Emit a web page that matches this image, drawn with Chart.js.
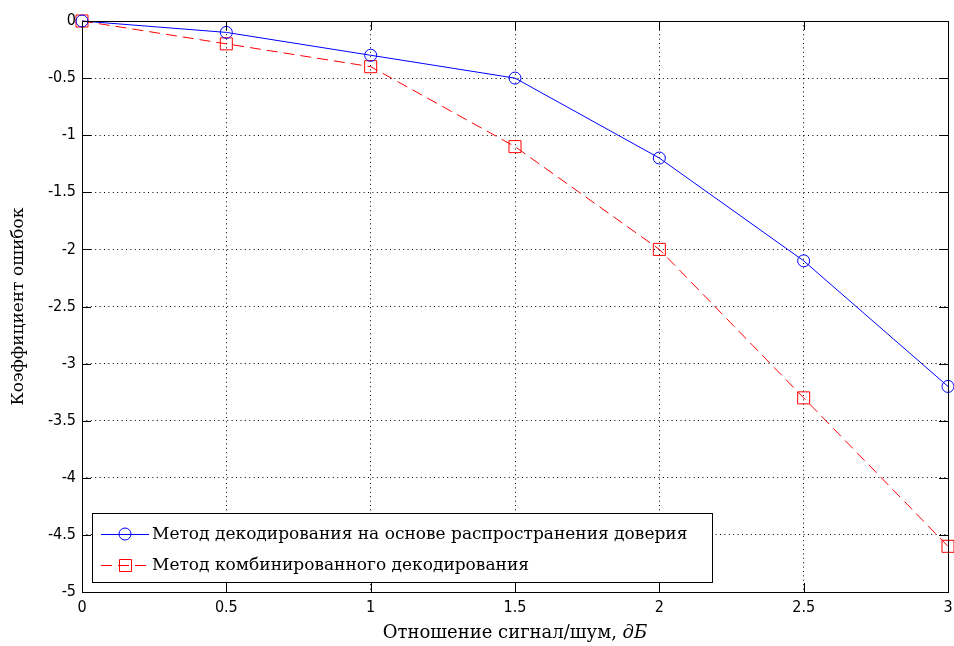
<!DOCTYPE html>
<html>
<head>
<meta charset="utf-8">
<script src="https://cdn.jsdelivr.net/npm/chart.js@4/dist/chart.umd.min.js"></script>
<style>
  html, body { margin: 0; padding: 0; background: #fff; }
  #wrap { width: 954px; height: 646px; }
</style>
</head>
<body>
<div id="wrap"><canvas id="myChart" width="954" height="646"></canvas></div>
<script>
// data
const snr = [0, 0.5, 1, 1.5, 2, 2.5, 3];
const beliefProp = [0, -0.1, -0.3, -0.5, -1.2, -2.1, -3.2];
const combined = [0, -0.2, -0.4, -1.1, -2.0, -3.3, -4.6];
const xTicks = [0, 0.5, 1, 1.5, 2, 2.5, 3];
const yTicks = [0, -0.5, -1, -1.5, -2, -2.5, -3, -3.5, -4, -4.5, -5];
const labels = ['Метод декодирования на основе распространения доверия', 'Метод комбинированного декодирования'];
const xTitle = ['Отношение сигнал/шум, ', 'дБ'];
const yTitle = 'Коэффициент ошибок';

const tickFamily = '"Liberation Sans Narrow", "DejaVu Sans Condensed", "Liberation Sans", sans-serif';
const textFamily = '"DejaVu Serif", "Liberation Serif", serif';

function pts(ys) {
    return snr.map(function (x, i) { return { x: x, y: ys[i] }; });
}

// box, inward ticks, legend and x title, MATLAB style
const matlabBox = {
    id: 'matlabBox',
    afterDatasetsDraw: function (chart) {
        const ctx = chart.ctx;
        const a = chart.chartArea;
        const xs = chart.scales.x, ys = chart.scales.y;
        ctx.save();
        ctx.strokeStyle = '#000';
        ctx.lineWidth = 1;
        ctx.setLineDash([]);
        ctx.beginPath();
        xTicks.forEach(function (v) {
            const px = Math.round(xs.getPixelForValue(v)) + 0.5;
            ctx.moveTo(px, a.bottom); ctx.lineTo(px, a.bottom - 9);
            ctx.moveTo(px, a.top); ctx.lineTo(px, a.top + 9);
        });
        yTicks.forEach(function (v) {
            const py = Math.round(ys.getPixelForValue(v)) + 0.5;
            ctx.moveTo(a.left, py); ctx.lineTo(a.left + 9, py);
            ctx.moveTo(a.right, py); ctx.lineTo(a.right - 9, py);
        });
        ctx.stroke();
        ctx.strokeRect(Math.round(a.left) + 0.5, Math.round(a.top) + 0.5, Math.round(a.right - a.left), Math.round(a.bottom - a.top));

        // legend
        const lx = 92, ly = 513, lw = 620, lh = 69;
        ctx.fillStyle = '#fff';
        ctx.fillRect(lx, ly, lw, lh);
        ctx.strokeRect(lx + 0.5, ly + 0.5, lw, lh);
        ctx.font = '17px ' + textFamily;
        ctx.textBaseline = 'middle';
        chart.data.datasets.forEach(function (ds, i) {
            const cy = ly + 21 + i * 31;
            ctx.strokeStyle = ds.borderColor;
            ctx.lineWidth = 1;
            ctx.setLineDash(ds.borderDash || []);
            ctx.beginPath();
            ctx.moveTo(lx + 9, cy + 0.5); ctx.lineTo(lx + 57, cy + 0.5);
            ctx.stroke();
            ctx.setLineDash([]);
            ctx.beginPath();
            const mx = lx + 33;
            if (ds.pointStyle === 'rect') {
                ctx.rect(mx - 6 + 0.5, cy - 6 + 0.5, 12, 12);
            } else {
                ctx.arc(mx, cy, 6, 0, Math.PI * 2);
            }
            ctx.stroke();
            ctx.fillStyle = '#000';
            ctx.fillText(ds.label, lx + 60, cy + 1);
        });

        // x title with italic units
        ctx.fillStyle = '#000';
        ctx.textBaseline = 'middle';
        ctx.font = '18px ' + textFamily;
        const w1 = ctx.measureText(xTitle[0]).width;
        ctx.font = 'italic 18px ' + textFamily;
        const w2 = ctx.measureText(xTitle[1]).width;
        const cx = (a.left + a.right) / 2;
        let tx = cx - (w1 + w2) / 2;
        ctx.font = '18px ' + textFamily;
        ctx.fillText(xTitle[0], tx, 633);
        ctx.font = 'italic 18px ' + textFamily;
        ctx.fillText(xTitle[1], tx + w1, 633);
        ctx.restore();
    }
};

var ctx = document.getElementById('myChart').getContext('2d');
var chart = new Chart(ctx, {
    type: 'line',
    data: {
        datasets: [{
            label: labels[0],
            data: pts(beliefProp),
            borderColor: '#0000ff',
            backgroundColor: 'rgba(0,0,0,0)',
            borderWidth: 1,
            pointStyle: 'circle',
            pointRadius: 6,
            pointBorderWidth: 1,
            pointBorderColor: '#0000ff',
            pointBackgroundColor: 'rgba(0,0,0,0)',
            tension: 0,
            clip: false
        },
        {
            label: labels[1],
            data: pts(combined),
            borderColor: '#ff0000',
            backgroundColor: 'rgba(0,0,0,0)',
            borderWidth: 1,
            borderDash: [11, 6],
            pointStyle: 'rect',
            pointRadius: 8.5,
            pointBorderWidth: 1,
            pointBorderColor: '#ff0000',
            pointBackgroundColor: 'rgba(0,0,0,0)',
            tension: 0,
            clip: false
        }]
    },
    options: {
        responsive: false,
        animation: false,
        layout: { autoPadding: false, padding: { top: 21, right: 6, left: 0, bottom: 0 } },
        plugins: {
            legend: { display: false },
            tooltip: { enabled: false }
        },
        scales: {
            x: {
                type: 'linear',
                min: 0,
                max: 3,
                afterBuildTicks: function (s) { s.ticks = xTicks.map(function (v) { return { value: v }; }); },
                afterFit: function (s) { s.height = 54; s.paddingLeft = 0; s.paddingRight = 0; },
                grid: {
                    color: '#000',
                    lineWidth: 1,
                    drawTicks: false,
                    tickLength: 0
                },
                border: { display: false, dash: [1, 3.4] },
                ticks: {
                    color: '#000',
                    padding: 6,
                    maxRotation: 0,
                    callback: function (v) { return String(v); },
                    font: { family: tickFamily, size: 16 }
                }
            },
            y: {
                type: 'linear',
                min: -5,
                max: 0,
                afterBuildTicks: function (s) { s.ticks = yTicks.map(function (v) { return { value: v }; }); },
                afterFit: function (s) { s.width = 82; s.paddingTop = 0; s.paddingBottom = 0; },
                grid: {
                    color: '#000',
                    lineWidth: 1,
                    drawTicks: false,
                    tickLength: 0
                },
                border: { display: false, dash: [1, 3.4] },
                ticks: {
                    color: '#000',
                    padding: 6,
                    callback: function (v) { return String(v); },
                    font: { family: tickFamily, size: 16 }
                },
                title: {
                    display: true,
                    text: yTitle,
                    color: '#000',
                    padding: { top: 8, bottom: 20 },
                    font: { family: textFamily, size: 17 }
                }
            }
        }
    },
    plugins: [matlabBox]
});
</script>
</body>
</html>
